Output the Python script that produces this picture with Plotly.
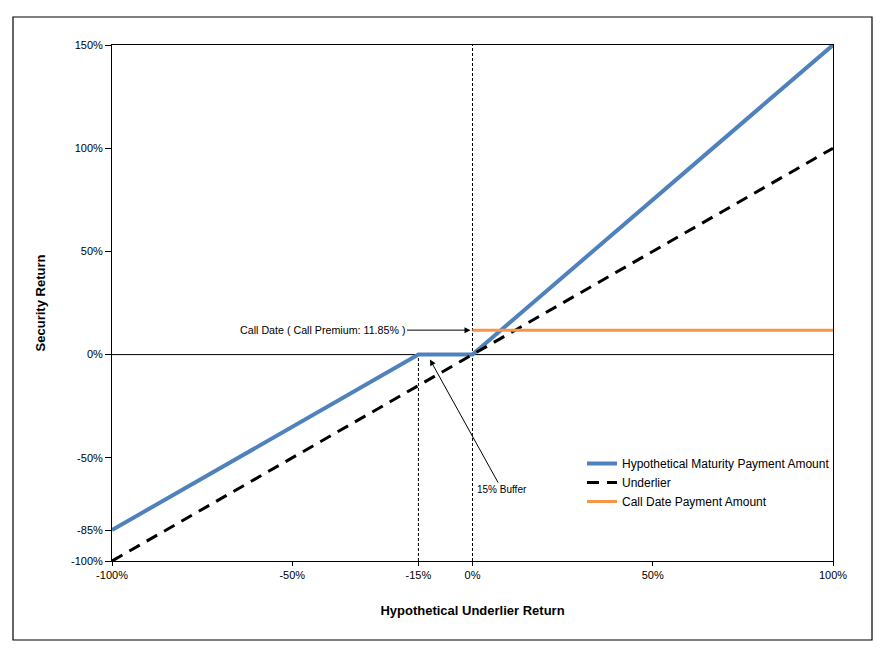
import plotly.graph_objects as go

# Data
underlier_x = [-100, 100]
underlier_y = [-100, 100]
maturity_x = [-100, -15, 0, 100]
maturity_y = [-85, 0, 0, 150]
call_x = [0, 100]
call_y = [11.85, 11.85]
x_ticks = [-100, -50, -15, 0, 50, 100]
x_tick_text = ["-100%", "-50%", "-15%", "0%", "50%", "100%"]
y_ticks = [-100, -85, -50, 0, 50, 100, 150]
y_tick_text = ["-100%", "-85%", "-50%", "0%", "50%", "100%", "150%"]
buffer_level = -15
call_premium = 11.85

FONT = "Liberation Sans, Arial, sans-serif"
PW, PH = 721, 516  # plot area size in px

fig = go.Figure()
fig.add_trace(go.Scatter(x=maturity_x, y=maturity_y, mode="lines",
                         name="Hypothetical Maturity Payment Amount",
                         line=dict(color="#4F81BD", width=4)))
fig.add_trace(go.Scatter(x=underlier_x, y=underlier_y, mode="lines",
                         name="Underlier",
                         line=dict(color="black", width=3, dash="12px,8px")))
fig.add_trace(go.Scatter(x=call_x, y=call_y, mode="lines",
                         name="Call Date Payment Amount",
                         line=dict(color="#F79646", width=3)))

# dotted vertical lines
fig.add_shape(type="line", x0=0, x1=0, y0=-100, y1=150, xref="x", yref="y",
              line=dict(color="black", width=1, dash="3px,2px"), layer="below")
fig.add_shape(type="line", x0=buffer_level, x1=buffer_level, y0=-100, y1=0, xref="x", yref="y",
              line=dict(color="black", width=1, dash="3px,2px"), layer="below")
# zero line
fig.add_shape(type="line", x0=-100, x1=100, y0=0, y1=0, xref="x", yref="y",
              line=dict(color="black", width=1), layer="below")
# outer border
fig.add_shape(type="rect", xref="paper", yref="paper",
              x0=(13 - 112) / PW, x1=(872 - 112) / PW,
              y0=(561 - 640) / PH, y1=(561 - 17) / PH,
              line=dict(color="black", width=1.2), fillcolor="rgba(0,0,0,0)")

fig.add_annotation(x=0, y=call_premium, xref="x", yref="y",
                   text="Call Date ( Call Premium: 11.85% )",
                   showarrow=True, ax=-150, ay=0, arrowhead=2, arrowsize=1.2,
                   arrowwidth=1, arrowcolor="black", standoff=2,
                   font=dict(family=FONT, size=10.7, color="black"))
fig.add_annotation(x=-11.8, y=-2.4, xref="x", yref="y",
                   text="15% Buffer",
                   showarrow=True, ax=72, ay=130, arrowhead=2, arrowsize=1.2,
                   arrowwidth=1, arrowcolor="black",
                   font=dict(family=FONT, size=10, color="black"))

fig.update_layout(
    width=876, height=649,
    margin=dict(l=104, r=51, t=37, b=96),
    paper_bgcolor="white", plot_bgcolor="white",
    font=dict(family=FONT, size=11, color="black"),
    showlegend=True,
    legend=dict(x=(590 - 120) / PW, y=(561 - 449) / PH, xanchor="left", yanchor="top",
                bgcolor="rgba(0,0,0,0)", font=dict(family=FONT, size=12, color="black"),
                tracegroupgap=0, itemwidth=30),
    xaxis=dict(range=[-100, 100], tickvals=x_ticks, ticktext=x_tick_text,
               tickfont=dict(family=FONT, size=11, color="black"),
               showgrid=False, zeroline=False, showline=True, linecolor="black",
               linewidth=1, mirror=True, ticks="outside", ticklen=4, tickcolor="black",
               title=dict(text="<b>Hypothetical Underlier Return</b>",
                          font=dict(family=FONT, size=13, color="black"), standoff=25)),
    yaxis=dict(range=[-100, 150], tickvals=y_ticks, ticktext=y_tick_text,
               tickfont=dict(family=FONT, size=11, color="black"),
               showgrid=False, zeroline=False, showline=True, linecolor="black",
               linewidth=1, mirror=True, ticks="outside", ticklen=6, tickcolor="black",
               title=dict(text="<b>Security Return</b>",
                          font=dict(family=FONT, size=13, color="black"), standoff=22)),
)

fig.write_html("out.html")
